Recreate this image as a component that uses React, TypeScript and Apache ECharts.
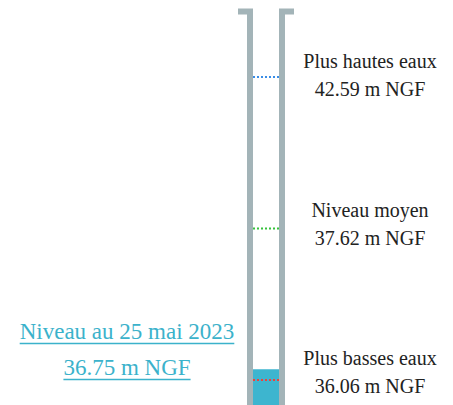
import React, { useEffect, useRef } from 'react';
import * as echarts from 'echarts';

// ---- data ----
const levelNames = ['Plus basses eaux', 'Niveau moyen', 'Plus hautes eaux'];
const levelValues = [36.06, 37.62, 42.59];
const currentDate = '25 mai 2023';
const currentValue = [36.75];
const unit = 'm NGF';

// ---- styles ----
const LEVEL_COLORS = ['#f0403a', '#36c23c', '#3a8de6'];
const WALL = '#a3b4b8';
const FILL = '#3db5cf';
const LINK = '#3bb2cb';
const TEXT = '#222222';
const SERIF = 'Liberation Serif, Tinos, DejaVu Serif, serif';

const fmt = (v: number) => `${v.toFixed(2)} ${unit}`;

export default function App() {
  const ref = useRef<HTMLDivElement>(null);
  useEffect(() => {
    document.body.style.margin = '0';
    const chart = echarts.init(ref.current!, null, { renderer: 'svg' });

    const line1 = `Niveau au ${currentDate}`;
    const line2 = fmt(currentValue[0]);
    const ctx = document.createElement('canvas').getContext('2d')!;
    ctx.font = `23px ${SERIF}`;
    const w1 = ctx.measureText(line1).width;
    const w2 = ctx.measureText(line2).width;
    const cx = 127;

    chart.setOption({
      animation: false,
      textStyle: { fontFamily: SERIF },
      grid: [
        { left: 253, width: 26, top: 15, height: 396, outerBoundsMode: 'none', containLabel: false },
        { left: 253, width: 26, top: 77, height: 303, outerBoundsMode: 'none', containLabel: false },
        { left: 370, width: 1, top: 1, height: 445.5, outerBoundsMode: 'none', containLabel: false },
      ],
      xAxis: [
        { gridIndex: 0, type: 'category', data: [currentDate], show: false },
        { gridIndex: 1, type: 'value', min: 0, max: 1, show: false },
        { gridIndex: 2, type: 'value', min: 0, max: 1, show: false },
      ],
      yAxis: [
        {
          gridIndex: 0,
          type: 'value',
          min: Math.min(...levelValues),
          max: Math.max(...levelValues),
          show: false,
        },
        { gridIndex: 1, type: 'category', data: levelNames, boundaryGap: false, show: false },
        {
          gridIndex: 2,
          type: 'category',
          data: levelNames,
          boundaryGap: true,
          position: 'left',
          axisLine: { show: false },
          axisTick: { show: false },
          splitLine: { show: false },
          axisLabel: {
            show: true,
            interval: 0,
            margin: 0,
            align: 'center',
            verticalAlign: 'middle',
            fontFamily: SERIF,
            fontSize: 20,
            lineHeight: 28,
            color: TEXT,
            formatter: (name: string, idx: number) => `${name}\n${fmt(levelValues[idx])}`,
          },
        },
      ],
      series: [
        {
          type: 'bar',
          xAxisIndex: 0,
          yAxisIndex: 0,
          data: currentValue,
          barWidth: '100%',
          itemStyle: { color: FILL },
          z: 1,
        },
        ...levelNames.map((name, i) => ({
          type: 'line',
          xAxisIndex: 1,
          yAxisIndex: 1,
          data: [
            [0, name],
            [1, name],
          ],
          symbol: 'none',
          lineStyle: { color: LEVEL_COLORS[i], width: 2, type: [2, 2] },
          z: 5,
        })),
      ],
      graphic: [
        {
          type: 'polyline',
          shape: { points: [[238, 11.5], [250, 11.5], [250, 420]] },
          style: { stroke: WALL, lineWidth: 6, fill: null, lineJoin: 'miter' },
          z: 10,
        },
        {
          type: 'polyline',
          shape: { points: [[294, 11.5], [282, 11.5], [282, 420]] },
          style: { stroke: WALL, lineWidth: 6, fill: null, lineJoin: 'miter' },
          z: 10,
        },
        {
          type: 'text',
          x: cx,
          y: 331,
          style: {
            text: line1,
            fontFamily: SERIF,
            fontSize: 23,
            fill: LINK,
            align: 'center',
            verticalAlign: 'middle',
          },
        },
        {
          type: 'text',
          x: cx,
          y: 367,
          style: {
            text: line2,
            fontFamily: SERIF,
            fontSize: 23,
            fill: LINK,
            align: 'center',
            verticalAlign: 'middle',
          },
        },
        {
          type: 'line',
          shape: { x1: cx - w1 / 2, y1: 343.5, x2: cx + w1 / 2, y2: 343.5 },
          style: { stroke: LINK, lineWidth: 1.5 },
        },
        {
          type: 'line',
          shape: { x1: cx - w2 / 2, y1: 379.5, x2: cx + w2 / 2, y2: 379.5 },
          style: { stroke: LINK, lineWidth: 1.5 },
        },
      ],
    });
    return () => chart.dispose();
  }, []);
  return <div ref={ref} style={{ width: 453, height: 405 }} />;
}
